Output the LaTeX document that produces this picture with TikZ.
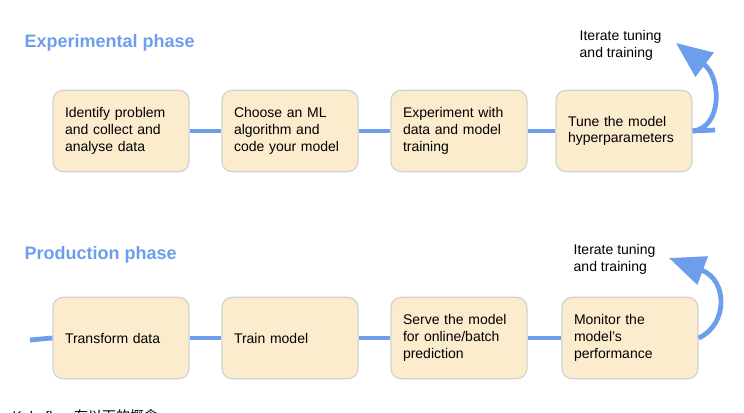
\documentclass[tikz,border=0pt]{standalone}
\usepackage{fontspec}
\setmainfont{Liberation Sans}
\newfontfamily\cjk{Noto Sans CJK SC}
\usetikzlibrary{arrows.meta}
\definecolor{flowblue}{RGB}{109,158,235}
\definecolor{boxfill}{RGB}{252,236,206}
\definecolor{boxline}{RGB}{210,210,210}
\tikzset{
  stage/.style={draw=boxline, line width=0.9pt, fill=boxfill, rounded corners=7.5pt,
    minimum width=102pt, minimum height=61pt, text width=84pt, align=left,
    font=\fontsize{10.5}{12.5}\selectfont},
  link/.style={draw=flowblue, line width=3.6pt},
  loop/.style={draw=flowblue, line width=3.6pt, -{Triangle[length=27pt,width=22pt]}},
  phase/.style={text=flowblue, font=\fontsize{13.5}{16}\selectfont\bfseries, anchor=west},
  note/.style={font=\fontsize{10.5}{12.5}\selectfont, align=left, anchor=north west}
}

\begin{document}
\begin{tikzpicture}[x=0.75pt, y=-0.75pt]
    \useasboundingbox (0,0) rectangle (744,413);

    %Experimental phase
    \node[phase] (exp) at (20,43) {Experimental phase};
    \node[stage] (e1) at (121,131) {Identify problem\\and collect and\\analyse data};
    \node[stage] (e2) at (290,131) {Choose an ML\\algorithm and\\code your model};
    \node[stage] (e3) at (459,131) {Experiment with\\data and model\\training};
    \node[stage] (e4) at (624,131) {Tune the model\\hyperparameters};
    \coordinate (eend) at (715,130);
    \node[note] (enote) at (575,26) {Iterate tuning\\and training};

    \draw[link] (e1.east) -- (e2.west);
    \draw[link] (e2.east) -- (e3.west);
    \draw[link] (e3.east) -- (e4.west);
    \draw[link] (e4.east) -- (eend);
    \draw[loop] (e4.east) .. controls (722,128) and (722,78) .. (676,43);

    %Production phase
    \node[phase] (prod) at (20,255) {Production phase};
    \node[stage] (p1) at (121,338) {Transform data};
    \node[stage] (p2) at (290,338) {Train model};
    \node[stage] (p3) at (459,338) {Serve the model\\for online/batch\\prediction};
    \node[stage] (p4) at (630,338) {Monitor the\\model’s\\performance};
    \coordinate (pstart) at (30,340);
    \node[note] (pnote) at (569,240) {Iterate tuning\\and training};

    \draw[link] (pstart) -- (p1.west);
    \draw[link] (p1.east) -- (p2.west);
    \draw[link] (p2.east) -- (p3.west);
    \draw[link] (p3.east) -- (p4.west);
    \draw[loop] (p4.east) .. controls (728,325) and (728,280) .. (669,258);

    %cut-off caption
    \node[anchor=base west, font=\fontsize{10.5}{12.5}\selectfont] (cap) at (8,422) {Kubeflow {\cjk 有以下的概念}};
\end{tikzpicture}
\end{document}
